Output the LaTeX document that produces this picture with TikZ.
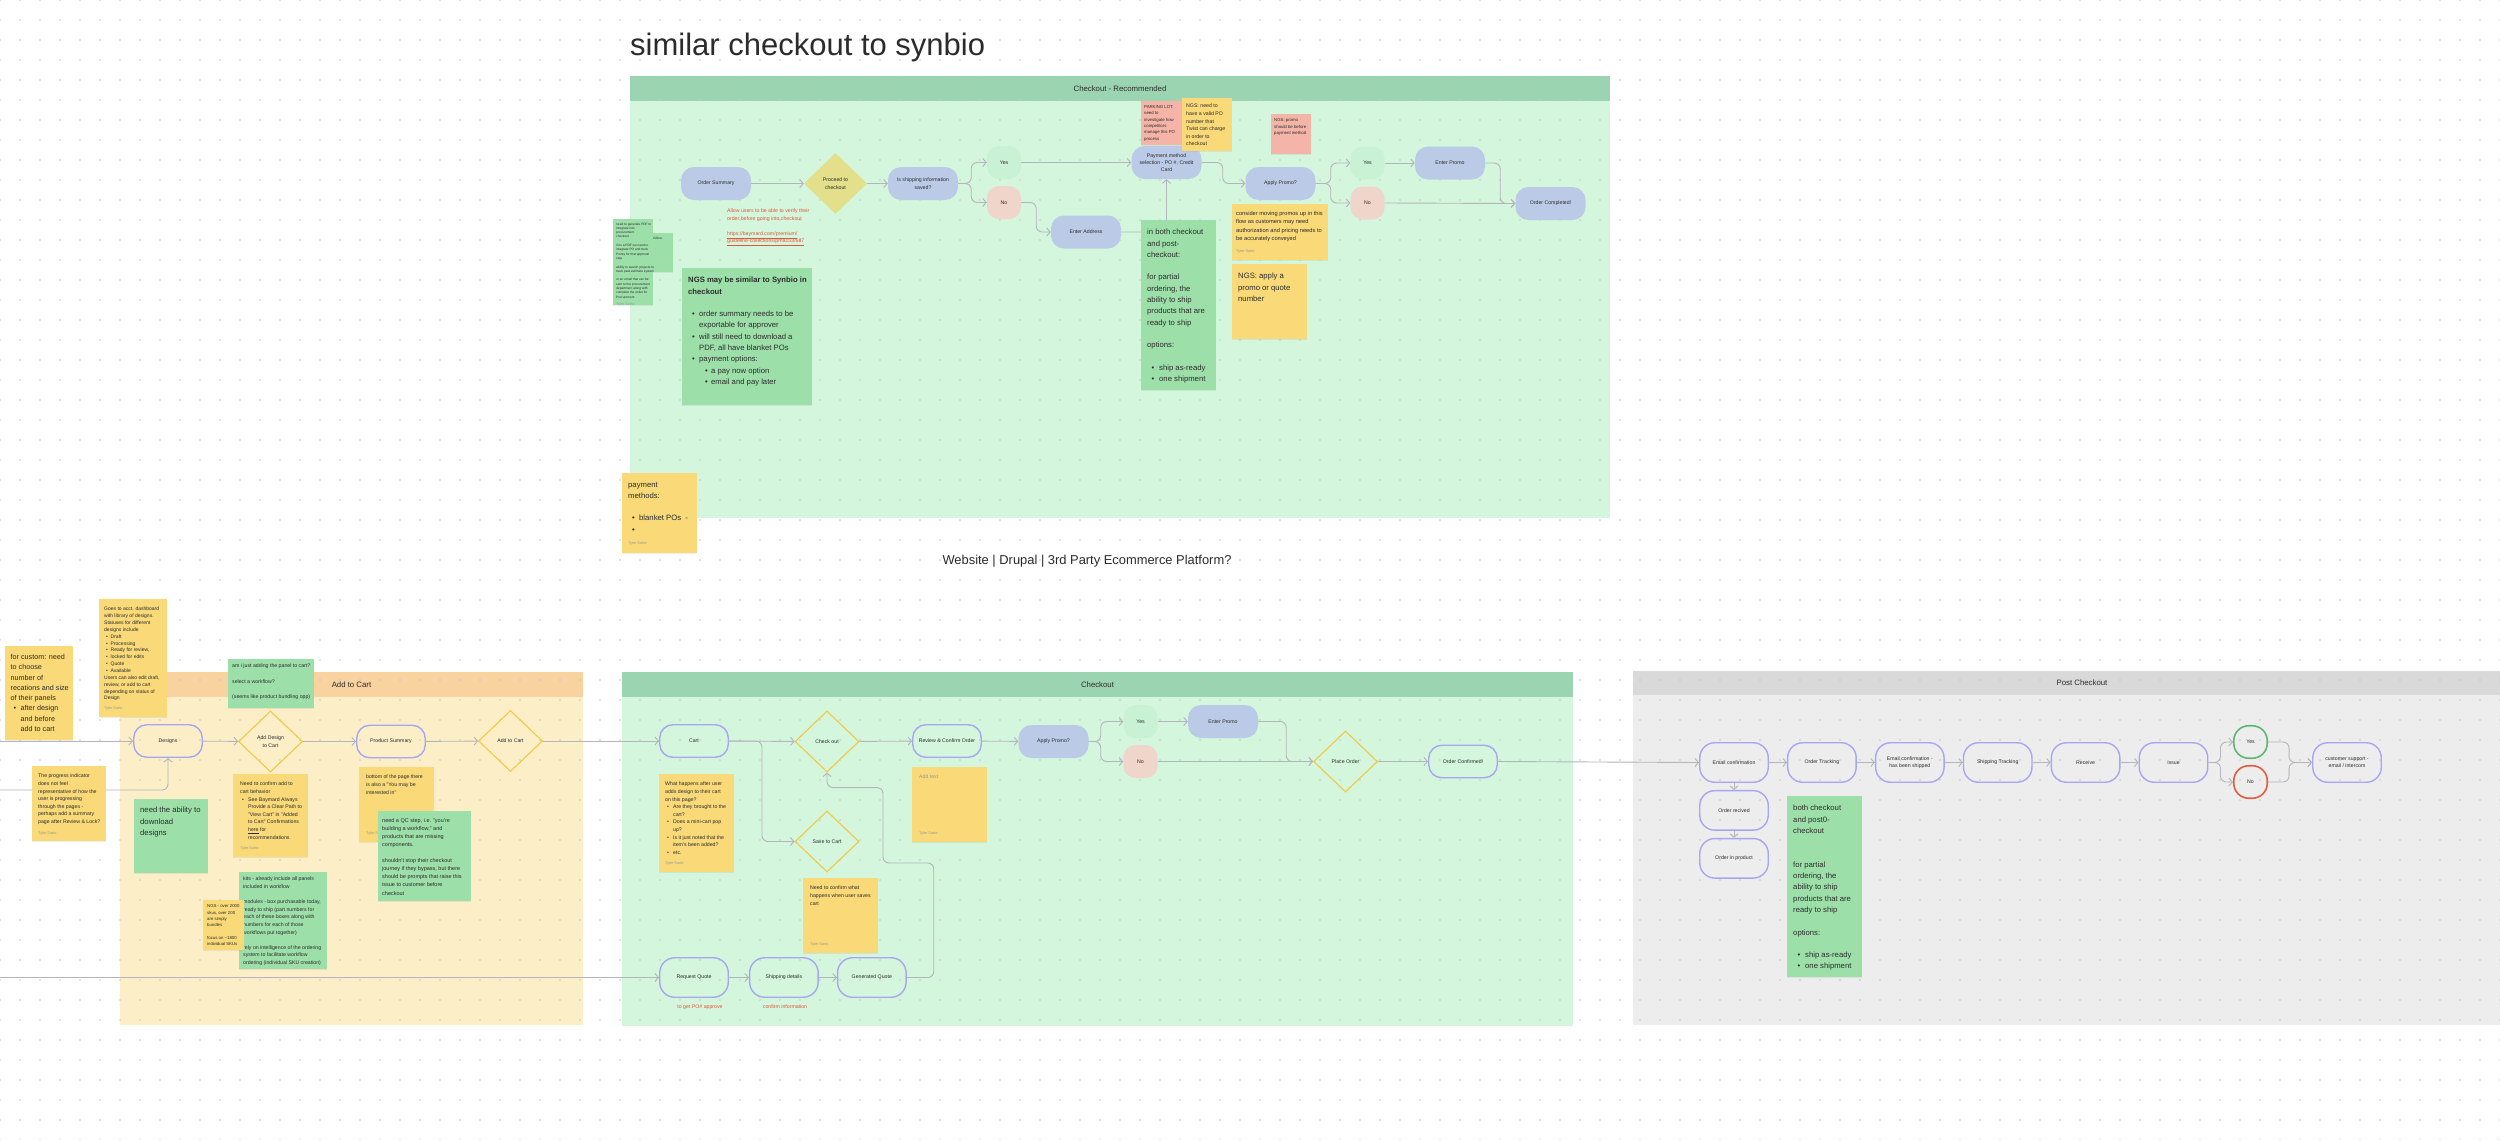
\documentclass[tikz,border=0pt]{standalone}
\usepackage{fontspec}
\setmainfont{Liberation Sans}
\usetikzlibrary{arrows.meta, positioning, shapes.geometric, calc, shadows, patterns.meta}

\definecolor{ink}{HTML}{2B2B2B}
\definecolor{linegray}{HTML}{B4B4BC}
\definecolor{dotgray}{HTML}{C6C6C6}
\definecolor{pillblue}{HTML}{BBCBE7}
\definecolor{pillline}{HTML}{A8A6F3}
\definecolor{choiceline}{HTML}{F4C842}
\definecolor{choicefill}{HTML}{E3DF8B}
\definecolor{yesfill}{HTML}{C8F2D3}
\definecolor{nofill}{HTML}{EFD5CA}
\definecolor{yesring}{HTML}{5DB873}
\definecolor{noring}{HTML}{E05F3E}
\definecolor{noteyellow}{HTML}{F9D978}
\definecolor{notegreen}{HTML}{9DDFA9}
\definecolor{notered}{HTML}{F4B4A8}
\definecolor{greenhead}{HTML}{9BD4B0}
\definecolor{greenbody}{HTML}{D3F6DC}
\definecolor{carthead}{HTML}{F8D29F}
\definecolor{cartbody}{HTML}{FCEFC8}
\definecolor{posthead}{HTML}{D9D9D9}
\definecolor{postbody}{HTML}{EDEDED}
\definecolor{redtext}{HTML}{E2563D}
\definecolor{authorgray}{HTML}{9A9A9A}

% sticky note: name, x, y, width, height, fill, text shift, font style, text
\newcommand{\memo}[9]{%
  \node[memobox, fill=#6, minimum width=#4pt, minimum height=#5pt] (#1) at (#2,#3) {};
  \node[memotext, #8] at ([shift={(#7)}]#1.north west) {#9};
}
\newcommand{\dotitem}[2]{\hspace*{#1}\makebox[#2][l]{\textbullet}}
\newcommand{\signed}{{\color{authorgray}\fontsize{3.8}{4.5}\selectfont Tyler Sarto}}

\begin{document}
\begin{tikzpicture}[x=1pt, y=-1pt,
    nodefont/.style={font=\fontsize{5.2}{7.3}\selectfont, text=ink, align=center},
    pill/.style={nodefont, rectangle, rounded corners=13pt, fill=pillblue, minimum width=70pt, minimum height=33pt, inner sep=1pt},
    pillring/.style={nodefont, rectangle, rounded corners=13pt, draw=pillline, line width=1.4pt, minimum width=68.5pt, minimum height=32.5pt, inner sep=1pt},
    tall/.style={minimum height=39.5pt, rounded corners=15pt},
    choice/.style={nodefont, diamond, aspect=1, draw=choiceline, line width=1.1pt, minimum width=64pt, minimum height=61pt, inner sep=0pt},
    choicesolid/.style={nodefont, diamond, aspect=1, fill=choicefill, minimum width=63pt, minimum height=61pt, inner sep=0pt},
    yesdot/.style={nodefont, rectangle, rounded corners=12pt, fill=yesfill, minimum width=34pt, minimum height=33pt},
    nodot/.style={yesdot, fill=nofill},
    yesloop/.style={nodefont, rectangle, rounded corners=15pt, draw=yesring, line width=1.6pt, minimum width=33.5pt, minimum height=32.5pt},
    noloop/.style={yesloop, draw=noring},
    flow/.style={draw=linegray, line width=0.9pt, rounded corners=6pt, -{Straight Barb[length=3.5pt, width=8pt]}},
    lanetitle/.style={font=\fontsize{7.8}{9}\selectfont, text=ink},
    redlabel/.style={font=\fontsize{5.2}{7.5}\selectfont, text=redtext, align=left},
    memobox/.style={rectangle, anchor=north west, inner sep=0pt, outer sep=0pt, drop shadow={opacity=0.13, shadow xshift=0.4pt, shadow yshift=-1.2pt}},
    memotext/.style={anchor=north west, inner sep=0pt, align=left, text=ink},
    bigtext/.style={font=\fontsize{7.7}{11.3}\selectfont},
    custtext/.style={font=\fontsize{7.2}{10.3}\selectfont},
    midtext/.style={font=\fontsize{5.7}{8.4}\selectfont},
    smalltext/.style={font=\fontsize{5.2}{7.6}\selectfont},
    tinytext/.style={font=\fontsize{5}{6.85}\selectfont},
    microtext/.style={font=\fontsize{4.3}{6.3}\selectfont},
    nanotext/.style={font=\fontsize{3.2}{4.3}\selectfont}
  ]
  \useasboundingbox (0,0) rectangle (2500,1140);
  \fill[white] (0,0) rectangle (2500,1140);

  % lanes
  \fill[greenbody] (630,76) rectangle (1610,518);
  \fill[greenhead] (630,76) rectangle (1610,101);
  \fill[cartbody] (120,672) rectangle (583,1025);
  \fill[carthead] (120,672) rectangle (583,697);
  \fill[greenbody] (622,672) rectangle (1573,1026);
  \fill[greenhead] (622,672) rectangle (1573,697);
  \fill[postbody] (1633,671) rectangle (2500,1025);
  \fill[posthead] (1633,671) rectangle (2500,695);

  % dot grid
  \fill[pattern={Dots[distance=20pt, radius=0.9pt]}, pattern color=dotgray] (0,0) rectangle (2500,1140);

  \node[font=\fontsize{31}{36}\selectfont, text=ink, anchor=base west, inner sep=0pt] (pagetitle) at (630,56) {similar checkout to synbio};
  \node[font=\fontsize{12.9}{15}\selectfont, text=ink] (platform) at (1087,561) {Website | Drupal | 3rd Party Ecommerce Platform?};
  \node[lanetitle] (toplane) at (1120,88.5) {Checkout - Recommended};
  \node[lanetitle] (cartlane) at (351.5,684.5) {Add to Cart};
  \node[lanetitle] (checklane) at (1097.5,684.5) {Checkout};
  \node[lanetitle] (postlane) at (2082,683) {Post Checkout};

  % recommended checkout
  \node[pill] (osum) at (716,183.5) {Order Summary};
  \node[choicesolid] (proceed) at (835.5,183.5) {Proceed to\\checkout};
  \node[pill] (shipq) at (923,183.5) {Is shipping information\\saved?};
  \node[yesdot] (yesA) at (1004,162.5) {Yes};
  \node[nodot] (noA) at (1004,202.5) {No};
  \node[pill] (addr) at (1086,232) {Enter Address};
  \node[pill] (pay) at (1166.5,162.5) {Payment method\\selection - PO \#, Credit\\Card};
  \node[pill] (promoq) at (1280.5,183.5) {Apply Promo?};
  \node[yesdot] (yesB) at (1367.5,163) {Yes};
  \node[nodot] (noB) at (1367.5,203) {No};
  \node[pill] (promo) at (1450,163) {Enter Promo};
  \node[pill] (done) at (1550.5,203.5) {Order Completed!};

  \node[redlabel, anchor=north west, inner sep=0pt] (verifynote) at (727,209) {Allow users to be able to verify their\\order before going into checkout\\[7.5pt]\underline{https://baymard.com/premium/}\\\underline{guideline-collections/pma153/687}};

  \draw[flow] (osum) -- (proceed);
  \draw[flow] (proceed) -- (shipq);
  \draw[flow] (shipq.east) -- ++(13,0) |- (yesA.west);
  \draw[flow] (shipq.east) -- ++(13,0) |- (noA.west);
  \draw[flow] (noA.east) -- ++(15,0) |- (addr.west);
  \draw[flow] (addr.east) -| (pay.south);
  \draw[flow] (yesA) -- (pay);
  \draw[flow] (pay.east) -- ++(21,0) |- (promoq.west);
  \draw[flow] (promoq.east) -- ++(15,0) |- (yesB.west);
  \draw[flow] (promoq.east) -- ++(15,0) |- (noB.west);
  \draw[flow] (yesB) -- (promo);
  \draw[flow] (promo.east) -- ++(15,0) |- (done.west);
  \draw[flow] (noB.east) -- (done.west);

  % add to cart / checkout
  \node[pillring] (designs) at (168,741) {Designs};
  \node[choice] (adddesign) at (270.5,741.5) {Add Design\\to Cart};
  \node[pillring] (prodsum) at (391,741.5) {Product Summary};
  \node[choice] (addcart) at (510.5,741) {Add to Cart};
  \node[pillring] (cart) at (694,741) {Cart};
  \node[choice] (checkout) at (827,741.5) {Check out};
  \node[pillring] (review) at (947,741) {Review \& Confirm Order};
  \node[pill] (promoq2) at (1053.5,741.5) {Apply Promo?};
  \node[yesdot] (yesC) at (1140.5,721.5) {Yes};
  \node[nodot] (noC) at (1140.5,761.5) {No};
  \node[pill] (promo2) at (1223,721.5) {Enter Promo};
  \node[choice] (place) at (1345.5,761.5) {Place Order};
  \node[pillring] (confirmed) at (1463,761.5) {Order Confirmed!};
  \node[choice] (savecart) at (827,841.5) {Save to Cart};
  \node[pillring, tall] (request) at (694,977.5) {Request Quote};
  \node[pillring, tall, right=20pt of request] (shipdet) {Shipping details};
  \node[pillring, tall, right=18pt of shipdet] (genquote) {Generated Quote};
  \node[redlabel] (poapprove) at (700,1007) {to get PO\# approve};
  \node[redlabel] (confirminfo) at (785,1007) {confirm information};

  % post checkout
  \node[pillring, tall] (email) at (1734,762.5) {Email confirmation};
  \node[pillring, tall, right=18pt of email] (track) {Order Tracking};
  \node[pillring, tall, right=18pt of track] (shipped) {Email confirmation -\\has been shipped};
  \node[pillring, tall, right=18pt of shipped] (shiptrack) {Shipping Tracking};
  \node[pillring, tall, right=18pt of shiptrack] (receive) {Receive};
  \node[pillring, tall, right=18pt of receive] (issue) {Issue};
  \node[yesloop] (yesD) at (2250.5,742) {Yes};
  \node[noloop] (noD) at (2250.5,782) {No};
  \node[pillring, tall] (support) at (2347,762.5) {customer support -\\email / intercom};
  \node[pillring, tall, below=7pt of email] (received) {Order recived};
  \node[pillring, tall, below=7pt of received] (inprod) {Order in product};

  \coordinate (fromleftA) at (0,741);
  \coordinate (fromleftB) at (0,790);
  \coordinate (fromleftC) at (0,977.5);
  \draw[flow] (fromleftA) -- (designs.west);
  \draw[flow] (fromleftB) -| (designs.south);
  \draw[flow] (designs) -- (adddesign);
  \draw[flow] (adddesign) -- (prodsum);
  \draw[flow] (prodsum) -- (addcart);
  \draw[flow] (addcart) -- (cart);
  \draw[flow] (cart) -- (checkout);
  \draw[flow] (cart.east) -- ++(33,0) |- (savecart.west);
  \draw[flow] (checkout) -- (review);
  \draw[flow] (review) -- (promoq2);
  \draw[flow] (promoq2.east) -- ++(12,0) |- (yesC.west);
  \draw[flow] (promoq2.east) -- ++(12,0) |- (noC.west);
  \draw[flow] (yesC) -- (promo2);
  \draw[flow] (promo2.east) -- ++(28,0) |- (place.west);
  \draw[flow] (noC) -- (place);
  \draw[flow] (place) -- (confirmed);
  \draw[flow] (confirmed.east) -- (email.west);
  \draw[flow] (fromleftC) -- (request.west);
  \draw[flow] (request) -- (shipdet);
  \draw[flow] (shipdet) -- (genquote);
  \draw[flow] (genquote.east) -- ++(27,0) |- (883,863) |- ([yshift=-15pt]checkout.south) -- (checkout.south);
  \draw[flow] (email) -- (track);
  \draw[flow] (track) -- (shipped);
  \draw[flow] (shipped) -- (shiptrack);
  \draw[flow] (shiptrack) -- (receive);
  \draw[flow] (receive) -- (issue);
  \draw[flow] (issue.east) -- ++(12,0) |- (yesD.west);
  \draw[flow] (issue.east) -- ++(12,0) |- (noD.west);
  \draw[flow] (yesD.east) -- ++(21,0) |- (support.west);
  \draw[flow] (noD.east) -- ++(21,0) |- (support.west);
  \draw[flow] (email) -- (received);
  \draw[flow] (received) -- (inprod);

  % sticky notes, top lane
  \memo{pdfnoteB}{633}{233}{40}{39}{notegreen}{3pt,-4pt}{nanotext}{approval workflow};
  \memo{pdfnote}{613}{219}{40}{86}{notegreen}{3pt,-3.5pt}{nanotext}{need to generate PDF to\\integrate into\\procurement\\checkout\\[4.3pt]if its a PDF we need to\\integrate PO and track\\Pointy for that approval\\step\\[4.3pt]ability to search projects to\\track past estimate system\\[4.3pt]or an email that can be\\sent to the procurement\\department along with\\complete the order for\\Procurement\\[3pt]\signed};
  \memo{paynote}{622}{473}{75}{80}{noteyellow}{6pt,-9pt}{bigtext}{payment\\methods:\\[11pt]\dotitem{4pt}{7pt}blanket POs\ \ -\\\dotitem{4pt}{7pt}\\[1pt]\signed};
  \memo{ngsnote}{682}{268}{130}{137}{notegreen}{6pt,-9pt}{bigtext}{\textbf{NGS may be similar to Synbio in}\\\textbf{checkout}\\[11.3pt]\dotitem{4pt}{7pt}order summary needs to be\\\hspace*{11pt}exportable for approver\\\dotitem{4pt}{7pt}will still need to download a\\\hspace*{11pt}PDF, all have blanket POs\\\dotitem{4pt}{7pt}payment options:\\\dotitem{17pt}{6pt}a pay now option\\\dotitem{17pt}{6pt}email and pay later};
  \memo{parking}{1141}{101}{41}{44}{notered}{3pt,-4.4pt}{microtext}{PARKING LOT:\\need to\\investigate how\\competitors\\manage this PO\\process};
  \memo{ponote}{1182}{98}{50}{53}{noteyellow}{4pt,-6pt}{smalltext}{NGS: need to\\have a valid PO\\number that\\Twist can charge\\in order to\\checkout};
  \memo{promonote}{1271}{114}{40}{40}{notered}{3pt,-4.5pt}{microtext}{NGS: promo\\should be before\\payment method};
  \memo{partialnote}{1141}{220}{75}{170}{notegreen}{6pt,-9pt}{bigtext}{in both checkout\\and post-\\checkout:\\[11.3pt]for partial\\ordering, the\\ability to ship\\products that are\\ready to ship\\[11.3pt]options:\\[11.3pt]\dotitem{4.5pt}{7.5pt}ship as-ready\\\dotitem{4.5pt}{7.5pt}one shipment};
  \memo{movenote}{1232}{204}{96}{56}{noteyellow}{4pt,-7pt}{midtext}{consider moving promos up in this\\flow as customers may need\\authorization and pricing needs to\\be accurately conveyed\\[4pt]\signed};
  \memo{quotenote}{1232}{264}{75}{75}{noteyellow}{6pt,-9pt}{bigtext}{NGS: apply a\\promo or quote\\number};

  % sticky notes, add to cart
  \memo{customnote}{5}{646}{68}{94}{noteyellow}{5.5pt,-8pt}{custtext}{for custom: need\\to choose\\number of\\recations and size\\of their panels\\\dotitem{3pt}{7pt}after design\\\hspace*{10pt}and before\\\hspace*{10pt}add to cart};
  \memo{acctnote}{99}{599}{68}{118}{noteyellow}{5pt,-8pt}{tinytext}{Goes to acct. dashboard\\with library of designs.\\Statuses for different\\designs include\\\dotitem{2pt}{4.5pt}Draft\\\dotitem{2pt}{4.5pt}Processing\\\dotitem{2pt}{4.5pt}Ready for review,\\\dotitem{2pt}{4.5pt}locked for edits\\\dotitem{2pt}{4.5pt}Quote\\\dotitem{2pt}{4.5pt}Available\\Users can also edit draft,\\review, or add to cart\\depending on status of\\Design\\[3pt]\signed};
  \memo{panelnote}{228}{659}{86}{49}{notegreen}{4pt,-5pt}{smalltext}{am i just adding the panel to cart?\\[7.8pt]select a workflow?\\[7.8pt](seems like product bundling opp)};
  \memo{progressnote}{32}{766}{74}{75}{noteyellow}{6pt,-8pt}{smalltext}{The progress indicator\\does not feel\\representative of how the\\user is progressing\\through the pages -\\perhaps add a summary\\page after Review \& Lock?\\[3pt]\signed};
  \memo{downloadnote}{134}{799}{74}{74}{notegreen}{6pt,-8pt}{bigtext}{need the ability to\\download\\designs};
  \memo{addnote}{233}{774}{75}{83}{noteyellow}{7pt,-8pt}{smalltext}{Need to confirm add to\\cart behavior\\\dotitem{2pt}{6pt}See Baymard Always\\\hspace*{8pt}Provide a Clear Path to\\\hspace*{8pt}"View Cart" in "Added\\\hspace*{8pt}to Cart" Confirmations\\\hspace*{8pt}\underline{here} for\\\hspace*{8pt}recommendations\\[3pt]\signed};
  \memo{bottomnote}{359}{767}{75}{75}{noteyellow}{7pt,-8pt}{smalltext}{bottom of the page there\\is also a "You may be\\interested in"\\[33pt]\signed};
  \memo{qcnote}{378}{811}{93}{90}{notegreen}{4pt,-7pt}{font=\fontsize{5.5}{8.1}\selectfont}{need a QC step, i.e. "you're\\building a workflow," and\\products that are missing\\components.\\[8.1pt]shouldn't stop their checkout\\journey if they bypass, but there\\should be prompts that raise this\\issue to customer before\\checkout};
  \memo{kitsnote}{239}{872}{88}{97}{notegreen}{4pt,-5pt}{smalltext}{kits - already include all panels\\included in workflow\\[7.5pt]modules - box purchasable today,\\ready to ship (part numbers for\\each of these boxes along with\\numbers for each of those\\workflows put together)\\[7.5pt]rely on intelligence of the ordering\\system to facilitate workflow\\ordering (individual SKU creation)};
  \memo{skunote}{203}{900}{41}{50}{noteyellow}{4pt,-4.5pt}{microtext}{NGS - over 2000\\skus, over 200\\are simply\\bundles\\[6.3pt]focus on \textasciitilde1800\\individual SKUs};

  % sticky notes, checkout
  \memo{cartnote}{659}{774}{75}{98}{noteyellow}{6pt,-8pt}{smalltext}{What happens after user\\adds design to their cart\\on this page?\\\dotitem{2pt}{6pt}Are they brought to the\\\hspace*{8pt}cart?\\\dotitem{2pt}{6pt}Does a mini-cart pop\\\hspace*{8pt}up?\\\dotitem{2pt}{6pt}Is it just noted that the\\\hspace*{8pt}item's been added?\\\dotitem{2pt}{6pt}etc.\\[3pt]\signed};
  \memo{blanknote}{912}{767}{75}{75}{noteyellow}{7pt,-8pt}{smalltext}{{\color{authorgray}Add text}\\[48pt]\signed};
  \memo{savenote}{803}{878}{75}{75}{noteyellow}{7pt,-8pt}{smalltext}{Need to confirm what\\happens when user saves\\cart\\[33pt]\signed};

  % sticky note, post checkout
  \memo{postnote}{1787}{796}{75}{181}{notegreen}{6pt,-9pt}{bigtext}{both checkout\\and post0-\\checkout\\[22.6pt]for partial\\ordering, the\\ability to ship\\products that are\\ready to ship\\[11.3pt]options:\\[11.3pt]\dotitem{4.5pt}{7.5pt}ship as-ready\\\dotitem{4.5pt}{7.5pt}one shipment};
\end{tikzpicture}
\end{document}
